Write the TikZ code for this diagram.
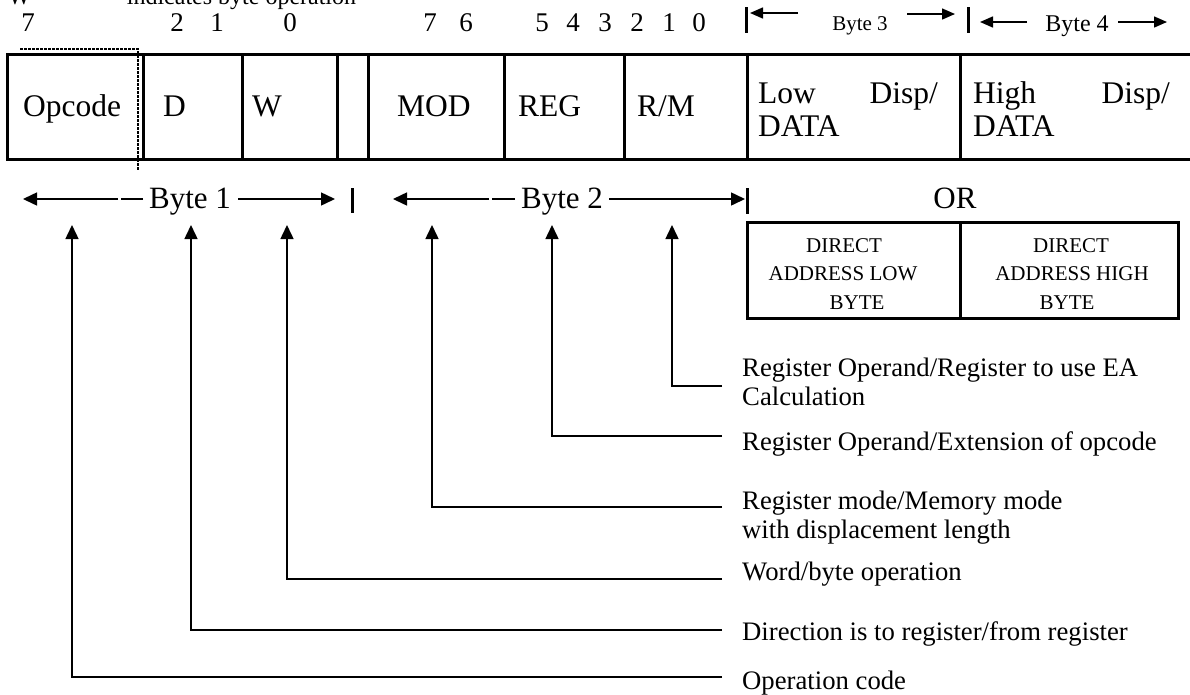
\documentclass[tikz,border=0pt]{standalone}
\usepackage{fontspec}
\setmainfont{Liberation Serif}
\usetikzlibrary{arrows.meta}
\tikzset{
  frame/.style={line width=3pt},
  bar/.style={line width=3pt},
  conn/.style={line width=1.5pt},
  arr/.style={line width=1.5pt,-{Triangle[length=14pt,width=13pt]}},
  smallarr/.style={line width=1.5pt,-{Triangle[length=13pt,width=11pt]}},
  dotline/.style={line width=1.3pt,dash pattern=on 2.5pt off 1.5pt},
  fieldtxt/.style={font=\fontsize{31.5}{36}\selectfont,inner sep=0pt,anchor=base west},
  bigtxt/.style={font=\fontsize{31}{36}\selectfont,inner sep=0pt,anchor=base},
  bitno/.style={font=\fontsize{27}{32}\selectfont,inner sep=0pt,anchor=base},
  lbl/.style={font=\fontsize{26.7}{30}\selectfont,inner sep=0pt,anchor=base west},
  addr/.style={font=\fontsize{21}{28}\selectfont,inner sep=0pt,anchor=base},
}
\begin{document}
\begin{tikzpicture}[x=1pt,y=-1pt]
\useasboundingbox (0,0) rectangle (1190,694);

% heading line
\node[lbl,font=\fontsize{24}{28}\selectfont] (head) at (8,4) {W\hspace{96pt}indicates byte operation};

% bit numbers
\foreach \n/\x/\t in {a/28/7,b/177/2,c/217/1,d/290/0,e/430/7,f/466/6,
                      g/542/5,h/573/4,i/605/3,j/637/2,k/669/1,l/699/0}
  \node[bitno] (bit\n) at (\x,31) {\t};

% byte 3 / byte 4 markers
\draw[bar] (746,7) -- (746,33);
\draw[bar] (968,7) -- (968,33);
\node[addr,font=\fontsize{21}{24}\selectfont] (b3) at (860,30) {Byte 3};
\node[addr,font=\fontsize{24}{28}\selectfont] (b4) at (1077,31) {Byte 4};
\coordinate (b3l0) at (798,13); \coordinate (b3l1) at (750,13);
\coordinate (b3r0) at (907,14); \coordinate (b3r1) at (955,14);
\coordinate (b4l0) at (1027,22); \coordinate (b4l1) at (980,22);
\coordinate (b4r0) at (1118,22); \coordinate (b4r1) at (1167,22);
\draw[smallarr] (b3l0) -- (b3l1);
\draw[smallarr] (b3r0) -- (b3r1);
\draw[smallarr] (b4l0) -- (b4l1);
\draw[smallarr] (b4r0) -- (b4r1);

% instruction format row
\draw[frame] (7,54) rectangle (1210,159);
\foreach \x in {143,242,337,368,504,624,747,960}
  \draw[frame] (\x,54) -- (\x,159);
\draw[dotline] (20,49) -- (138,49) -- (138,170);

\node[fieldtxt] (op)  at (23,116)  {Opcode};
\node[fieldtxt] (d)   at (163,116) {D};
\node[fieldtxt] (w)   at (252,116) {W};
\node[fieldtxt] (mod) at (397,116) {MOD};
\node[fieldtxt] (reg) at (518,116) {REG};
\node[fieldtxt] (rm)  at (637,116) {R/M};
\node[fieldtxt] (lo1) at (758,103) {Low};
\node[fieldtxt,anchor=base east] (lo2) at (938,103) {Disp/};
\node[fieldtxt] (lo3) at (758,136) {DATA};
\node[fieldtxt] (hi1) at (973,103) {High};
\node[fieldtxt,anchor=base east] (hi2) at (1170,103) {Disp/};
\node[fieldtxt] (hi3) at (973,136) {DATA};

% byte 1 / byte 2 spans
\node[bigtxt] (b1) at (190,208) {Byte 1};
\node[bigtxt] (b2) at (562,208) {Byte 2};
\coordinate (b1a) at (143,199); \coordinate (b1b) at (121,199);
\coordinate (b1c) at (118,199); \coordinate (b1d) at (23,199);
\coordinate (b1e) at (238,199); \coordinate (b1f) at (335,199);
\draw[conn] (b1a) -- (b1b);
\draw[arr] (b1c) -- (b1d);
\draw[arr] (b1e) -- (b1f);
\draw[bar] (352,188) -- (352,213);
\coordinate (b2a) at (515,199); \coordinate (b2b) at (492,199);
\coordinate (b2c) at (489,199); \coordinate (b2d) at (393,199);
\coordinate (b2e) at (609,199); \coordinate (b2f) at (745,199);
\draw[conn] (b2a) -- (b2b);
\draw[arr] (b2c) -- (b2d);
\draw[arr] (b2e) -- (b2f);
\draw[bar] (747,188) -- (747,214);

% alternative: direct address
\node[bigtxt] (or) at (955,208) {OR};
\draw[frame] (747,222) rectangle (1178,318);
\draw[frame] (960,222) -- (960,318);
\node[addr] (dl1) at (844,252) {DIRECT};
\node[addr] (dl2) at (843,280) {ADDRESS LOW};
\node[addr] (dl3) at (857,309) {BYTE};
\node[addr] (dh1) at (1071,252) {DIRECT};
\node[addr] (dh2) at (1072,280) {ADDRESS HIGH};
\node[addr] (dh3) at (1067,309) {BYTE};

% field descriptions
\node[lbl] (lrm)  at (742,376) {Register Operand/Register to use EA};
\node[lbl] (lrm2) at (742,405) {Calculation};
\node[lbl] (lreg) at (742,450) {Register Operand/Extension of opcode};
\node[lbl] (lmod) at (742,509) {Register mode/Memory mode};
\node[lbl] (lmod2) at (742,538) {with displacement length};
\node[lbl] (lw)   at (742,580) {Word/byte operation};
\node[lbl] (ld)   at (742,640) {Direction is to register/from register};
\node[lbl] (lop)  at (742,689) {Operation code};

% pointers from descriptions up to the fields
\foreach \n/\x/\y in {rm/672/386,reg/552/436,mod/432/507,w/287/579,d/191/630,op/72/677}{
  \coordinate (t\n) at (\x,225);
  \coordinate (e\n) at (722,\y);
  \draw[arr] (e\n) -| (t\n);
}
\end{tikzpicture}
\end{document}
